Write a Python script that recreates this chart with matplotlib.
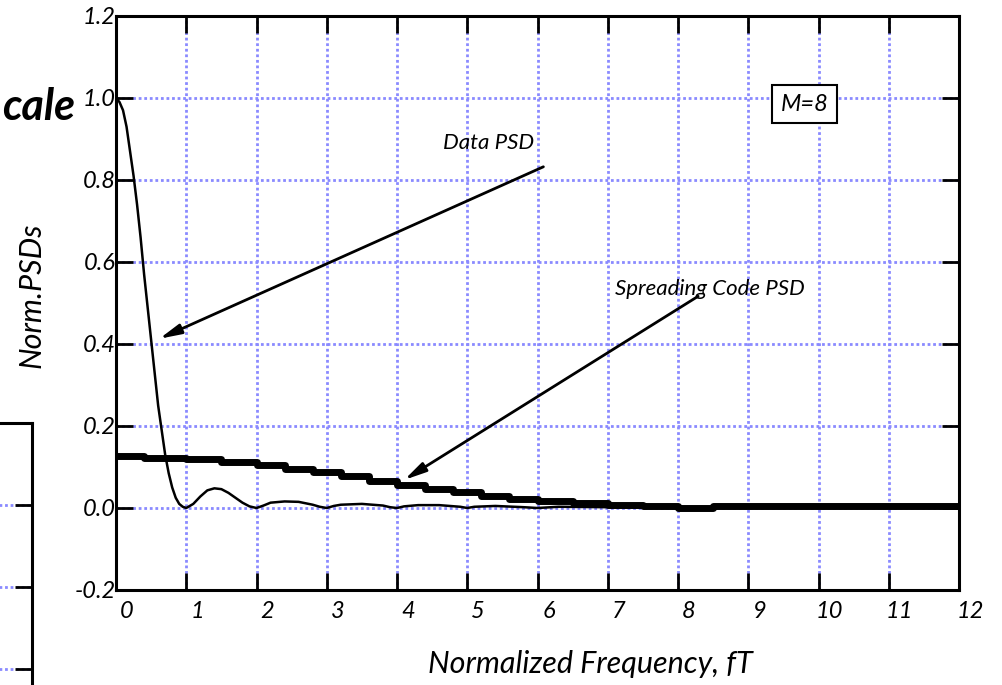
import matplotlib
matplotlib.use('Agg')
import matplotlib.pyplot as plt
import matplotlib.transforms as mtransforms
import numpy as np

plt.rcParams['font.family'] = ['Lato', 'DejaVu Sans']

# data psd (thin line)
data_f = [0.0, 0.05, 0.1, 0.15, 0.2, 0.25, 0.3, 0.35, 0.4, 0.45, 0.5, 0.55, 0.6,
          0.65, 0.7, 0.75, 0.8, 0.85, 0.9, 0.95, 1.0, 1.1, 1.2, 1.3, 1.4, 1.5,
          1.6, 1.7, 1.8, 1.9, 2.0, 2.1, 2.2, 2.4, 2.6, 2.8, 2.9, 3.0, 3.1, 3.2,
          3.5, 3.8, 3.9, 4.0, 4.1, 4.3, 4.6, 4.9, 5.0, 5.1, 5.4, 5.8, 6.0, 6.3,
          7.0, 8.0, 9.0, 10.0, 11.0, 12.0]
data_psd = [1.0, 0.99, 0.97, 0.93, 0.87, 0.81, 0.74, 0.66, 0.57, 0.49, 0.41,
            0.33, 0.25, 0.19, 0.13, 0.085, 0.05, 0.025, 0.01, 0.003, 0.0, 0.01,
            0.028, 0.043, 0.048, 0.046, 0.037, 0.025, 0.013, 0.004, 0.0, 0.006,
            0.013, 0.016, 0.015, 0.008, 0.003, 0.0, 0.005, 0.008, 0.01, 0.006,
            0.002, 0.0, 0.004, 0.007, 0.007, 0.003, 0.0, 0.003, 0.005, 0.002,
            0.0, 0.003, 0.002, 0.0, 0.002, 0.001, 0.001, 0.0]

# spreading code psd (thick stepped line)
code_f = [0.0, 0.4, 1.0, 1.5, 2.0, 2.4, 2.8, 3.2, 3.6, 4.0, 4.4, 4.8, 5.2,
          5.6, 6.0, 6.5, 7.0, 7.5, 8.0, 8.5, 9.0, 10.0, 11.0, 12.0]
code_psd = [0.127, 0.122, 0.119, 0.113, 0.104, 0.096, 0.087, 0.077, 0.066,
            0.055, 0.046, 0.038, 0.030, 0.023, 0.016, 0.011, 0.008, 0.004,
            0.0, 0.005, 0.005, 0.005, 0.005, 0.005]

xticks = list(range(0, 13))
yticks = [-0.2, 0.0, 0.2, 0.4, 0.6, 0.8, 1.0, 1.2]
ytick_labels = ['-0.2', '0.0', '0.2', '0.4', '0.6', '0.8', '1.0', '1.2']

grid_col = '#8a8aff'

fig = plt.figure(figsize=(10.03, 6.85), dpi=100)

# main axes
ax = fig.add_axes([116 / 1003, 1 - 590 / 685, (959 - 116) / 1003, (590 - 16) / 685])
ax.plot(data_f, data_psd, color='black', lw=1.8, zorder=3)
ax.plot(code_f, code_psd, color='black', lw=5, drawstyle='steps-post', zorder=4)

ax.set_xlim(0, 12)
ax.set_ylim(-0.2, 1.2)
ax.set_xticks(xticks)
ax.set_xticklabels([str(t) for t in xticks], fontsize=17, style='italic')
ax.set_yticks(yticks)
ax.set_yticklabels(ytick_labels, fontsize=17, style='italic')
ax.tick_params(direction='in', length=12, width=2, top=True, right=True)
ax.tick_params(axis='y', pad=0)
ax.tick_params(axis='x', pad=8)
# shift x tick labels a bit to the right like the original
off = mtransforms.ScaledTranslation(11 / 100, 0, fig.dpi_scale_trans)
for lab in ax.get_xticklabels():
    lab.set_transform(lab.get_transform() + off)
for s in ax.spines.values():
    s.set_linewidth(2.2)
ax.grid(True, color=grid_col, ls=(0, (1, 1)), lw=2)

# annotations
ax.annotate('', xy=(0.58, 0.41), xytext=(6.12, 0.835),
            arrowprops=dict(arrowstyle='-|>,head_length=1.3,head_width=0.3',
                            color='black', lw=2), zorder=5)
ax.text(5.3, 0.89, 'Data PSD', fontsize=16, style='italic', ha='center', va='center')
ax.annotate('', xy=(4.07, 0.065), xytext=(8.32, 0.52),
            arrowprops=dict(arrowstyle='-|>,head_length=1.3,head_width=0.3',
                            color='black', lw=2), zorder=5)
ax.text(8.45, 0.535, 'Spreading Code PSD', fontsize=16, style='italic',
        ha='center', va='center')
ax.text(9.8, 0.985, 'M=8', fontsize=17, style='italic', ha='center', va='center',
        bbox=dict(boxstyle='square,pad=0.35', fc='white', ec='black', lw=1.5))

fig.text(590 / 1003, 1 - 664 / 685, 'Normalized Frequency, fT', fontsize=22,
         style='italic', ha='center', va='center')
fig.text(32 / 1003, 1 - 295 / 685, 'Norm.PSDs', fontsize=22, style='italic',
         rotation=90, ha='center', va='center')

# cropped title text from the slide
fig.text(2 / 1003, 1 - 120 / 685, 'cale', fontsize=31, style='italic',
         weight='bold', ha='left', va='baseline')

# part of a neighbouring chart, cut off at bottom left
ax2 = fig.add_axes([-0.3, 1 - 710 / 685, 0.3 + 32 / 1003, (710 - 423) / 685])
ax2.set_xlim(0, 1)
ax2.set_ylim(-3.5, 0)
ax2.set_yticks([0, -1, -2, -3])
ax2.set_xticks([])
ax2.tick_params(direction='in', length=12, width=2, left=False, right=True,
                labelleft=False)
ax2.grid(True, axis='y', color=grid_col, ls=(0, (1, 1)), lw=2)
for s in ax2.spines.values():
    s.set_linewidth(2.2)

fig.savefig('out.png', dpi=100)
